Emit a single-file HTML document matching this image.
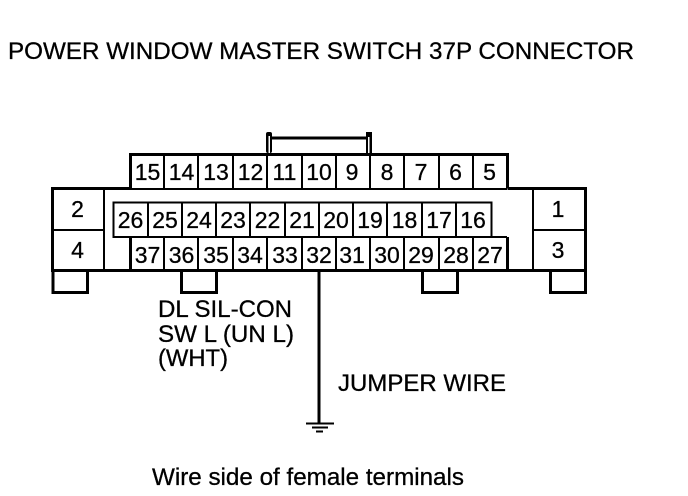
<!DOCTYPE html>
<html><head><meta charset="utf-8"><style>
html,body{margin:0;padding:0;background:#fff}
svg{display:block}
text{font-family:"Liberation Sans",sans-serif;fill:#000;stroke:#000;stroke-width:.3px}
.n{font-size:23px;text-anchor:middle}
.l{font-size:24px}
</style></head><body>
<svg width="688" height="496" viewBox="0 0 688 496" xmlns="http://www.w3.org/2000/svg">
<rect width="688" height="496" fill="#fff"/>
<text class="l" x="8" y="59" textLength="626" lengthAdjust="spacingAndGlyphs">POWER WINDOW MASTER SWITCH 37P CONNECTOR</text>

<!-- thick outline -->
<g fill="none" stroke="#000" stroke-width="3">
<path d="M130.5 188.5V154.5H507.5V188.5"/>
<path d="M130.5 188.5H52.5V270.5H585.5V188.5H507.5"/>
<path d="M53 270.5V292.5H87.5V270.5"/>
<path d="M181.5 270.5V292.5H216.5V270.5"/>
<path d="M422.5 270.5V292.5H457.5V270.5"/>
<path d="M550.5 270.5V292.5H585.5V270.5"/>
<path d="M130.5 237V270M507.5 237V270"/>
</g>
<!-- handle -->
<rect x="266" y="132" width="6" height="21" rx="2" fill="#000"/>
<rect x="268.5" y="136" width="1.5" height="17" fill="#fff"/>
<rect x="366" y="132" width="6" height="21" fill="#000"/>
<rect x="368" y="137" width="1.5" height="16" fill="#fff"/>
<rect x="272" y="136.5" width="94" height="3" fill="#000"/>
<!-- thin cell lines -->
<g fill="none" stroke="#000" stroke-width="2">
<path d="M130 189H507"/>
<path d="M164 154V188M198 154V188M233 154V188M267 154V188M302 154V188M336 154V188M370 154V188M404 154V188M439 154V188M473 154V188"/>
<path d="M113.5 202.5H491.5V237H113.5Z"/>
<path d="M148 202V237M182 202V237M216 202V237M250 202V237M285 202V237M319 202V237M353 202V237M387 202V237M422 202V237M456 202V237"/>
<path d="M113 237H507"/>
<path d="M164 237V270M198 237V270M233 237V270M267 237V270M302 237V270M336 237V270M370 237V270M404 237V270M439 237V270M473 237V270"/>
<path d="M104 188V270M533 188V270M52 230H104M533 230H585"/>
</g>
<!-- numbers -->
<text class="n" x="147.5" y="180">15</text>
<text class="n" x="181.5" y="180">14</text>
<text class="n" x="216" y="180">13</text>
<text class="n" x="250.5" y="180">12</text>
<text class="n" x="284.5" y="180">11</text>
<text class="n" x="319" y="180">10</text>
<text class="n" x="352" y="180">9</text>
<text class="n" x="387" y="180">8</text>
<text class="n" x="421" y="180">7</text>
<text class="n" x="455.5" y="180">6</text>
<text class="n" x="489.5" y="180">5</text>

<text class="n" x="130.5" y="228">26</text>
<text class="n" x="165" y="228">25</text>
<text class="n" x="199" y="228">24</text>
<text class="n" x="233" y="228">23</text>
<text class="n" x="267.5" y="228">22</text>
<text class="n" x="302" y="228">21</text>
<text class="n" x="336" y="228">20</text>
<text class="n" x="370" y="228">19</text>
<text class="n" x="404.5" y="228">18</text>
<text class="n" x="439" y="228">17</text>
<text class="n" x="473" y="228">16</text>

<text class="n" x="147.5" y="263">37</text>
<text class="n" x="181.5" y="263">36</text>
<text class="n" x="216" y="263">35</text>
<text class="n" x="250" y="263">34</text>
<text class="n" x="285" y="263">33</text>
<text class="n" x="319" y="263">32</text>
<text class="n" x="352" y="263">31</text>
<text class="n" x="387" y="263">30</text>
<text class="n" x="421" y="263">29</text>
<text class="n" x="456" y="263">28</text>
<text class="n" x="490" y="263">27</text>

<text class="n" x="77.5" y="217">2</text>
<text class="n" x="77.5" y="258">4</text>
<text class="n" x="558" y="217">1</text>
<text class="n" x="558" y="258">3</text>

<!-- wire and ground -->
<path d="M319 271V423" stroke="#000" stroke-width="3" fill="none"/>
<path d="M306 423.5H334" stroke="#000" stroke-width="2" fill="none"/>
<path d="M312 427.5H328" stroke="#000" stroke-width="2" fill="none"/>
<path d="M316 431.5H323" stroke="#000" stroke-width="2" fill="none"/>

<text class="l" x="158" y="317" textLength="134" lengthAdjust="spacingAndGlyphs">DL SIL-CON</text>
<text class="l" x="158" y="342" textLength="136" lengthAdjust="spacingAndGlyphs">SW L (UN L)</text>
<text class="l" x="158" y="366" textLength="70" lengthAdjust="spacingAndGlyphs">(WHT)</text>
<text class="l" x="338" y="391" textLength="168" lengthAdjust="spacingAndGlyphs">JUMPER WIRE</text>
<text class="l" x="152" y="485" textLength="312" lengthAdjust="spacingAndGlyphs">Wire side of female terminals</text>
</svg>
</body></html>
